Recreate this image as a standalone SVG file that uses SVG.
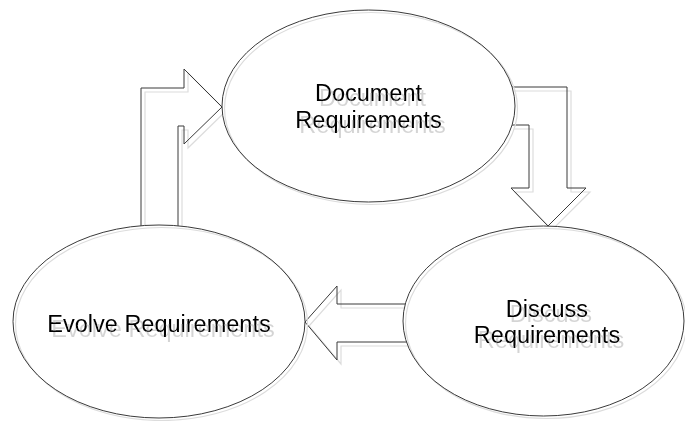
<svg xmlns="http://www.w3.org/2000/svg" width="685" height="421" viewBox="0 0 685 421">
  <style>
    .arrow { fill: none; stroke: #3a3a3a; stroke-width: 1; stroke-linejoin: miter; }
    .arrow-shadow { fill: none; stroke: #dcdcdc; stroke-width: 1.2; }
    .node-bg { fill: #ffffff; stroke: none; }
    .node-shadow { fill: none; stroke: #dcdcdc; stroke-width: 1.2; }
    .node { fill: none; stroke: #3a3a3a; stroke-width: 1; }
    .label { font-family: "Liberation Sans", Arial, sans-serif; font-size: 23.5px; text-anchor: middle; fill: #000000; filter: url(#text-shadow); }
  </style>
  <defs>
    <!-- soft grey drop copy behind each label -->
    <filter id="text-shadow" x="-10%" y="-30%" width="130%" height="170%">
      <feFlood flood-color="#d4d4d4" result="tint"/>
      <feComposite in="tint" in2="SourceAlpha" operator="in" result="shape"/>
      <feOffset in="shape" dx="4" dy="5" result="drop"/>
      <feMerge>
        <feMergeNode in="drop"/>
        <feMergeNode in="SourceGraphic"/>
      </feMerge>
    </filter>
    <path id="arrow-evolve-document" d="M141,228 L141,88 L184,88 L184,69 L222,107 L184,144 L184,126 L178,126 L178,228"/>
    <path id="arrow-document-discuss" d="M510,87 L567,87 L567,188 L586,188 L548,226 L511,188 L529,188 L529,125 L510,125"/>
    <path id="arrow-discuss-evolve" d="M407,304 L337,304 L337,286 L305,322 L337,360 L337,342 L407,342"/>
  </defs>
  <rect width="685" height="421" fill="#ffffff"/>

  <!-- block arrows between the stages -->
  <g id="connectors">
    <use href="#arrow-evolve-document" class="arrow-shadow" transform="translate(4,4)"/>
    <use href="#arrow-document-discuss" class="arrow-shadow" transform="translate(4,4)"/>
    <use href="#arrow-discuss-evolve" class="arrow-shadow" transform="translate(4,4)"/>
    <use href="#arrow-evolve-document" class="arrow"/>
    <use href="#arrow-document-discuss" class="arrow"/>
    <use href="#arrow-discuss-evolve" class="arrow"/>
  </g>

  <g id="document-requirements">
    <ellipse class="node-bg" cx="368.5" cy="106" rx="146.5" ry="96"/>
    <ellipse class="node-shadow" cx="371" cy="108.5" rx="146.5" ry="96"/>
    <ellipse class="node" cx="368.5" cy="106" rx="146.5" ry="96"/>
    <text class="label" x="368.5" y="101">Document<tspan x="368.5" y="128">Requirements</tspan></text>
  </g>

  <g id="discuss-requirements">
    <ellipse class="node-bg" cx="543.5" cy="321" rx="140.5" ry="95"/>
    <ellipse class="node-shadow" cx="546" cy="323.5" rx="140.5" ry="95"/>
    <ellipse class="node" cx="543.5" cy="321" rx="140.5" ry="95"/>
    <text class="label" x="547" y="317">Discuss<tspan x="547" y="343">Requirements</tspan></text>
  </g>

  <g id="evolve-requirements">
    <ellipse class="node-bg" cx="159" cy="321.5" rx="146" ry="96.5"/>
    <ellipse class="node-shadow" cx="161.5" cy="324" rx="146" ry="96.5"/>
    <ellipse class="node" cx="159" cy="321.5" rx="146" ry="96.5"/>
    <text class="label" x="159" y="332">Evolve Requirements</text>
  </g>
</svg>
